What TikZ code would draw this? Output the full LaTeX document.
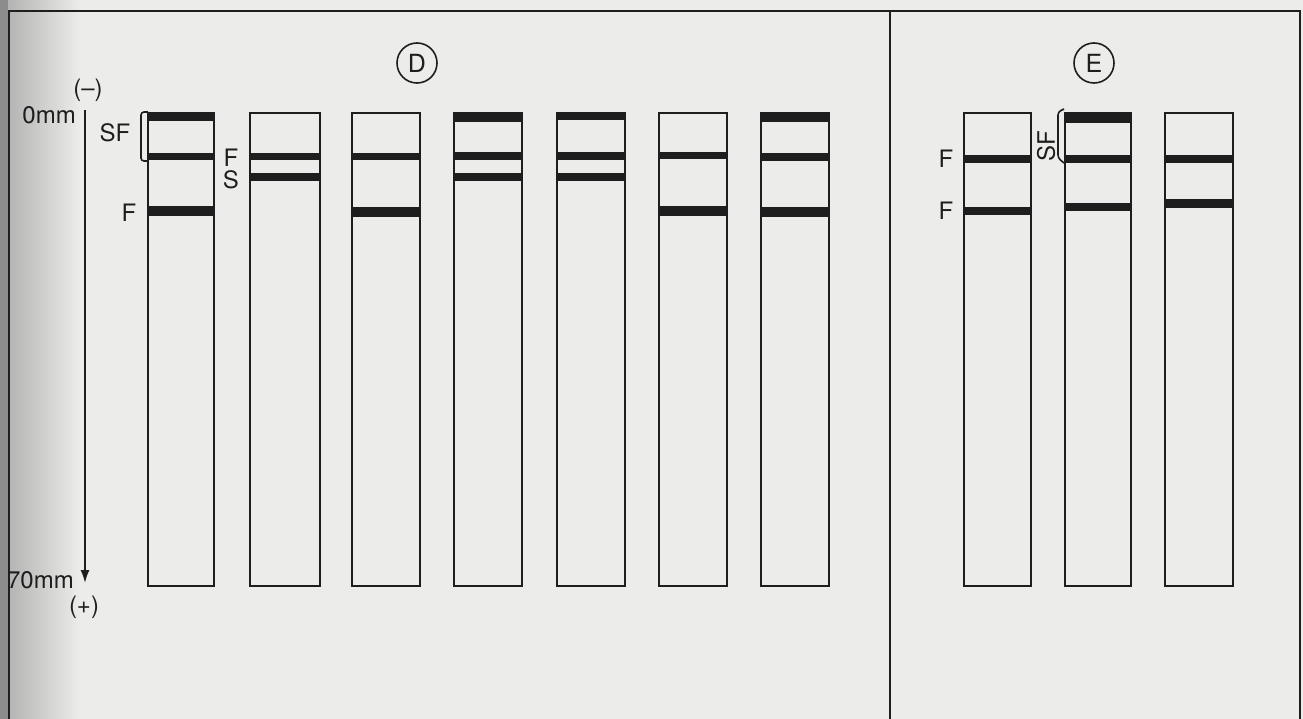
\documentclass[tikz,border=0pt]{standalone}
\usepackage{fontspec}
\setmainfont{TeX Gyre Heros}
\usetikzlibrary{arrows.meta}
\definecolor{paper}{RGB}{236,236,234}
\definecolor{ink}{RGB}{30,30,30}
\tikzset{
  lane/.style={draw=ink, line width=2.2pt},
  band/.style={fill=ink, draw=none},
  frameline/.style={draw=ink, line width=1.8pt},
  lbl/.style={font=\fontsize{24}{26}\selectfont, text=ink, inner sep=0pt},
  brk/.style={draw=ink, line width=1.6pt, rounded corners=3pt},
  circ/.style={draw=ink, line width=1.6pt, circle, minimum size=40pt, inner sep=0pt, font=\fontsize{25}{27}\selectfont, text=ink}
}
\begin{document}
\begin{tikzpicture}[x=1pt,y=-1pt]
\useasboundingbox (0,0) rectangle (1303,719);
\fill[paper] (0,0) rectangle (1303,719);
\shade[left color=black!32, right color=paper, draw=none] (0,0) rectangle (80,719);
\fill[black!45] (0,0) rectangle (8,719);
% frame
\draw[frameline] (9,719) -- (9,11) -- (1300,11) -- (1300,719);
\draw[frameline] (890,11) -- (890,719);
% circled panel letters
\node[circ] (D) at (417,63) {D};
\node[circ] (E) at (1094,63) {E};
% lanes D
\foreach \l/\r in {148/214,250/320,352/420,454/522,557/625,659/727,761/829}{
  \draw[lane] (\l,113) rectangle (\r,586);
}
% lanes E
\foreach \l/\r in {964/1031,1065/1131,1165/1233}{
  \draw[lane] (\l,113) rectangle (\r,586);
}
% bands: left/right/top/bottom
\foreach \l/\r/\t/\b in {
  148/214/112/121, 148/214/153/160, 148/214/206/216,
  250/320/153/160, 250/320/173/181,
  352/420/153/160, 352/420/207/217,
  454/522/112/122, 454/522/152/160, 454/522/173/181,
  557/625/112/120, 557/625/152/160, 557/625/173/181,
  659/727/152/159, 659/727/206/216,
  761/829/112/122, 761/829/153/161, 761/829/207/217,
  964/1031/155/163, 964/1031/207/215,
  1065/1131/112/123, 1065/1131/155/163, 1065/1131/203/211,
  1165/1233/155/163, 1165/1233/199/208}{
  \fill[band] (\l,\t) rectangle (\r,\b);
}
% axis
\coordinate (ax0) at (85,110);
\coordinate (ax1) at (85,583);
\draw[draw=ink, line width=1.8pt, -{Latex[length=13pt,width=9pt]}] (ax0) -- (ax1);
\node[lbl] (minus) at (88,90) {(–)};
\node[lbl, anchor=east] (zero) at (76,115) {0mm};
\node[lbl, anchor=east] (seventy) at (74,580) {70mm};
\node[lbl] (plus) at (84,607) {(+)};
% D labels
\node[lbl] (sfD) at (115,133) {SF};
\draw[brk] (148,112) -- (141,112) -- (141,161) -- (148,161);
\node[lbl] (f1) at (129,213) {F};
\node[lbl] (f2) at (231,158) {F};
\node[lbl] (s2) at (231,180) {S};
% E labels
\node[lbl] (fe1) at (946,159) {F};
\node[lbl] (fe2) at (946,211) {F};
\node[lbl, rotate=90] (sfE) at (1046,146) {SF};
\draw[brk] (1064,109) -- (1058,112) -- (1058,158) -- (1064,163);
\end{tikzpicture}
\end{document}
